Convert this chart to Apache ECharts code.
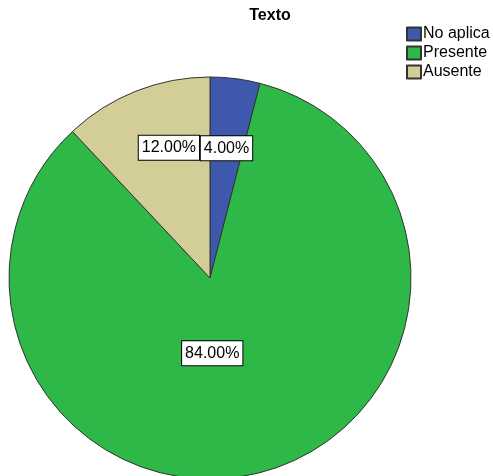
<!DOCTYPE html>
<html><head><meta charset="utf-8">
<script src="https://cdn.jsdelivr.net/npm/echarts@6/dist/echarts.min.js"></script>
<style>html,body{margin:0;padding:0;background:#fff}#c{width:493px;height:476px}</style>
</head><body><div id="c"></div>
<script>
const categories = ['No aplica', 'Presente', 'Ausente'];
const values = [4, 84, 12];
const colors = ['#3E58AC', '#2EB848', '#D3CE97'];
const labelOffsets = [[3.5, -27], [-23.5, -25], [-3, -34]];

const chart = echarts.init(document.getElementById('c'), null, {renderer: 'canvas'});
chart.setOption({
  animation: false,
  title: {text: 'Texto', left: 265, top: 3, textAlign: 'center',
    textStyle: {fontFamily: 'Liberation Sans, Arial', fontSize: 16, fontWeight: 'bold', color: '#000'}},
  legend: {orient: 'vertical', left: 401, top: 21, itemWidth: 14, itemHeight: 13, itemGap: 3,
    icon: 'rect', selectedMode: false, data: categories,
    textStyle: {fontFamily: 'Liberation Sans, Arial', fontSize: 16, lineHeight: 16, color: '#000', padding: [0, 0, 0, -3]}},
  series: [{
    type: 'pie', center: [210, 278], radius: 201, startAngle: 90, clockwise: true,
    silent: true, avoidLabelOverlap: false,
    labelLayout: {hideOverlap: false},
    itemStyle: {borderColor: '#333', borderWidth: 1},
    label: {show: true, position: 'inside', formatter: p => p.value.toFixed(2) + '%',
      fontFamily: 'Liberation Sans, Arial', fontSize: 16, lineHeight: 18, color: '#000',
      backgroundColor: '#fff', borderColor: '#000', borderWidth: 1, padding: [3, 3, 3, 3]},
    labelLine: {show: false},
    data: categories.map((n, i) => ({name: n, value: values[i],
      itemStyle: {color: colors[i]}, label: {offset: labelOffsets[i]}}))
  }]
});
</script></body></html>
